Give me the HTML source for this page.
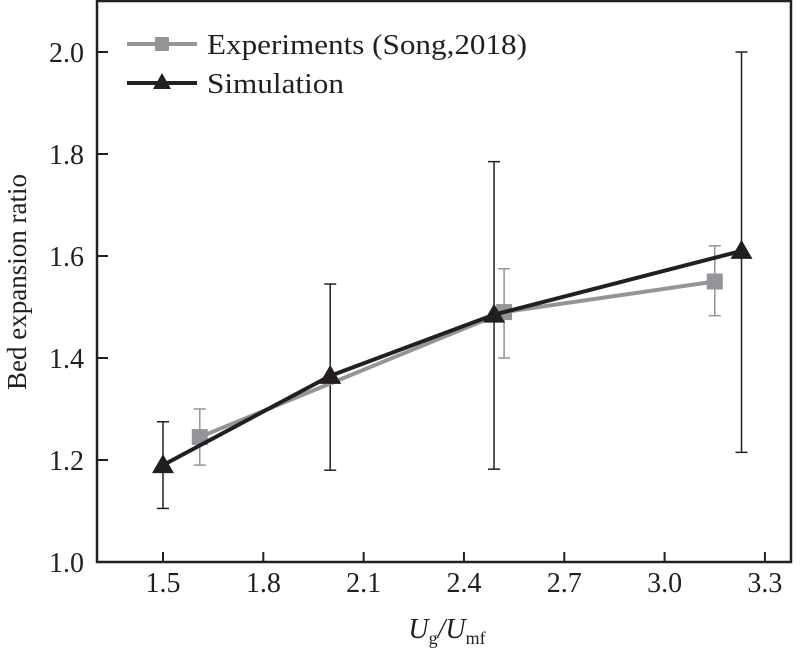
<!DOCTYPE html>
<html><head><meta charset="utf-8"><style>
html,body{margin:0;padding:0;background:#fff;}
text{font-family:'Liberation Serif','DejaVu Serif',serif;fill:#231f20;}
</style></head><body>
<svg width="808" height="654" xmlns="http://www.w3.org/2000/svg" font-family="Liberation Serif, DejaVu Serif, serif">
<g id="axes"></g><g id="series"></g>
<g>
<line x1="127" y1="44" x2="197" y2="44" stroke="#939598" stroke-width="4"/>
<rect x="155" y="37" width="14" height="14" fill="#939598"/>
<text x="207" y="54" font-size="29" textLength="320" lengthAdjust="spacingAndGlyphs">Experiments (Song,2018)</text>
<line x1="127" y1="83" x2="197" y2="83" stroke="#231f20" stroke-width="4"/>
<polygon points="162,73 153,89 171,89" fill="#231f20"/>
<text x="207" y="93" font-size="29" textLength="137" lengthAdjust="spacingAndGlyphs">Simulation</text>
</g>
<text transform="translate(26,282) rotate(-90)" text-anchor="middle" font-size="27">Bed expansion ratio</text>
<text x="447" y="638" text-anchor="middle" font-size="28" font-style="italic">U<tspan font-size="18" dy="6" font-style="normal">g</tspan><tspan dy="-6">/U</tspan><tspan font-size="18" dy="6" font-style="normal">mf</tspan></text>
</svg>
<script>
const xTicks=[1.5,1.8,2.1,2.4,2.7,3.0,3.3];
const xTickLabels=["1.5","1.8","2.1","2.4","2.7","3.0","3.3"];
const yTicks=[1.0,1.2,1.4,1.6,1.8,2.0];
const yTickLabels=["1.0","1.2","1.4","1.6","1.8","2.0"];
const expX=[1.61,2.52,3.15];
const expY=[1.245,1.49,1.55];
const expLo=[1.19,1.40,1.483];
const expHi=[1.30,1.575,1.62];
const simX=[1.5,2.0,2.49,3.23];
const simY=[1.19,1.365,1.485,1.61];
const simLo=[1.105,1.18,1.182,1.215];
const simHi=[1.275,1.545,1.785,2.0];

const NS="http://www.w3.org/2000/svg";
const sx=v=>163+(v-1.5)*334.4;
const sy=v=>562-(v-1.0)*510;
function mk(tag,attrs,parent){const e=document.createElementNS(NS,tag);for(const k in attrs)e.setAttribute(k,attrs[k]);parent.appendChild(e);return e;}
const ax=document.getElementById('axes'), se=document.getElementById('series');
const frame=mk('rect',{x:97,y:1,width:694,height:561,fill:'none',stroke:'#231f20','stroke-width':2.5},ax);


xTicks.forEach((t,i)=>{
  const l=mk('line',{x1:sx(t),x2:sx(t),y1:562,y2:552,stroke:'#231f20','stroke-width':2},ax);
  
  
  const tx=mk('text',{x:sx(t),y:592,'text-anchor':'middle','font-size':28},ax);
  tx.textContent=xTickLabels[i];
  
  
});
yTicks.forEach((t,i)=>{
  const l=mk('line',{x1:97,x2:108,y1:sy(t),y2:sy(t),stroke:'#231f20','stroke-width':2},ax);
  
  
  const tx=mk('text',{x:84,y:sy(t)+10,'text-anchor':'end','font-size':28},ax);
  tx.textContent=yTickLabels[i];
  
  
});
function errs(X,Lo,Hi,col,w,cap,name){
  X.forEach((x,i)=>{
    const g=mk('g',{stroke:col,'stroke-width':w},se);
    
    
    mk('line',{x1:sx(x),x2:sx(x),y1:sy(Lo[i]),y2:sy(Hi[i])},g);
    mk('line',{x1:sx(x)-cap,x2:sx(x)+cap,y1:sy(Lo[i]),y2:sy(Lo[i])},g);
    mk('line',{x1:sx(x)-cap,x2:sx(x)+cap,y1:sy(Hi[i]),y2:sy(Hi[i])},g);
  });
}
errs(expX,expLo,expHi,'#939598',1.5,6,'exp-error-bar');
errs(simX,simLo,simHi,'#231f20',1.5,6,'sim-error-bar');
const el=mk('polyline',{points:expX.map((x,i)=>sx(x)+','+sy(expY[i])).join(' '),fill:'none',stroke:'#939598','stroke-width':4},se);


expX.forEach((x,i)=>{
  const r=mk('rect',{x:sx(x)-8,y:sy(expY[i])-8,width:16,height:16,fill:'#939598'},se);
  
  
});
const sl=mk('polyline',{points:simX.map((x,i)=>sx(x)+','+sy(simY[i])).join(' '),fill:'none',stroke:'#231f20','stroke-width':4},se);


simX.forEach((x,i)=>{
  const cx=sx(x),cy=sy(simY[i]);
  const p=mk('polygon',{points:`${cx},${cy-11} ${cx-11},${cy+8} ${cx+11},${cy+8}`,fill:'#231f20'},se);
  
  
});
</script>
</body></html>
